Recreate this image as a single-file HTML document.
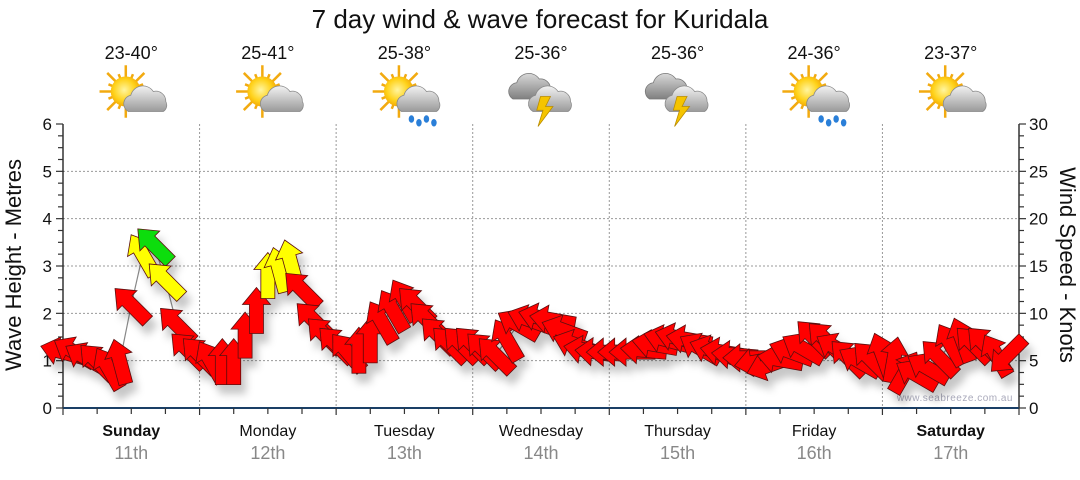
<!DOCTYPE html>
<html><head><meta charset="utf-8">
<style>
body{margin:0;background:#fff;width:1080px;height:475px;overflow:hidden;font-family:"Liberation Sans","DejaVu Sans",sans-serif}
svg text{font-family:"Liberation Sans","DejaVu Sans",sans-serif}
</style></head>
<body>
<svg id="chart" width="1080" height="475" viewBox="0 0 1080 475" xmlns="http://www.w3.org/2000/svg">
<defs>
<filter id="sh" x="-50%" y="-50%" width="200%" height="200%"><feDropShadow dx="5" dy="9" stdDeviation="4" flood-color="#000" flood-opacity="0.22"/></filter>
<radialGradient id="sun" cx="0.45" cy="0.45" r="0.6"><stop offset="0" stop-color="#fff5a0"/><stop offset="0.6" stop-color="#ffd21a"/><stop offset="1" stop-color="#f0a000"/></radialGradient>
<linearGradient id="cloud" x1="0" y1="0" x2="0" y2="1"><stop offset="0" stop-color="#f2f2f2"/><stop offset="1" stop-color="#9a9a9a"/></linearGradient>
<linearGradient id="dcloud" x1="0" y1="0" x2="0" y2="1"><stop offset="0" stop-color="#d8d8d8"/><stop offset="1" stop-color="#808080"/></linearGradient>
</defs>
<text x="540" y="28" text-anchor="middle" font-size="26" fill="#111">7 day wind &amp; wave forecast for Kuridala</text>
<g id="icons"></g>
<g id="grid"></g>
<g id="axes"></g>
<text x="1013" y="401" text-anchor="end" font-size="10" fill="#aab" letter-spacing="0.5">www.seabreeze.com.au</text>
<g id="series"></g>
<text transform="translate(21,265) rotate(-90)" text-anchor="middle" font-size="22" fill="#111">Wave Height - Metres</text>
<text transform="translate(1060,265) rotate(90)" text-anchor="middle" font-size="22" fill="#111">Wind Speed - Knots</text>
</svg>
<script>
const days = ["Sunday","Monday","Tuesday","Wednesday","Thursday","Friday","Saturday"];
const dates = ["11th","12th","13th","14th","15th","16th","17th"];
const boldDays = [true,false,false,false,false,false,true];
const temps = ["23-40°","25-41°","25-38°","25-36°","25-36°","24-36°","23-37°"];
const icons = ["partly","partly","rain","storm","storm","rain","partly"];
const waveTicks = [0,1,2,3,4,5,6];
const windTicks = [0,5,10,15,20,25,30];
// wind speed (knots), 2-hourly, 12 per day
const windSpeed = [
5.9,5.9,5.3,4.9,4.2,4.9,10.9,16.2,17.2,13.5,8.8,6.1,
5.6,4.9,4.9,4.9,7.7,10.3,14.0,14.6,15.4,12.5,9.3,7.7,
6.7,5.9,6.1,7.2,9.1,10.3,11.4,10.9,9.3,7.7,6.7,6.7,
6.7,6.1,5.6,7.2,8.8,9.3,9.5,9.3,8.2,6.7,6.1,5.9,
5.9,5.9,5.9,6.1,6.7,7.2,7.4,7.2,6.3,6.1,5.9,5.6,
5.3,4.9,4.5,5.1,5.9,6.3,7.4,7.2,6.3,5.3,4.9,5.1,
5.6,5.1,3.8,3.5,4.2,5.3,6.7,7.2,6.7,6.7,5.6,5.6];
// arrow heading in degrees (0 = up, clockwise)
const windDir = [
-75,-60,-60,-45,-30,-15,-45,-30,-45,-45,-45,-45,
-45,-30,0,0,0,0,0,-15,-15,-45,-45,-45,
-45,-40,0,0,-30,-30,-30,-45,-45,-45,-45,-45,
-45,-45,-45,-30,-60,-70,-75,-80,-70,-70,-80,-85,
-90,-90,-90,-85,-80,-75,-75,-80,-60,-70,-80,-85,
-90,-100,-110,-80,-70,-60,-45,-45,-60,-45,-60,-45,
-20,10,30,-60,-60,-45,-30,-20,-45,-45,-30,-135];

const NS="http://www.w3.org/2000/svg";
const X0=63,X1=1019,Y0=408,Y1=124;
const dayW=(X1-X0)/7;
const xOf=t=>X0+t*dayW;
const yWave=v=>Y0-(v/6)*(Y0-Y1);
const yWind=v=>Y0-(v/30)*(Y0-Y1);
function mk(tag,attrs,parent){const e=document.createElementNS(NS,tag);for(const k in attrs)e.setAttribute(k,attrs[k]);parent.appendChild(e);return e;}

const grid=document.getElementById('grid'),axes=document.getElementById('axes'),series=document.getElementById('series'),ic=document.getElementById('icons');
waveTicks.forEach(v=>{if(v>0&&v<6){const l=mk('line',{x1:X0,x2:X1,y1:yWave(v),y2:yWave(v),stroke:'#999','stroke-dasharray':'2,2','stroke-width':1},grid);

}});
for(let d=1;d<7;d++){const l=mk('line',{x1:xOf(d),x2:xOf(d),y1:Y1,y2:Y0,stroke:'#999','stroke-dasharray':'2,2','stroke-width':1},grid);

}
mk('line',{x1:X0,x2:X0,y1:Y1,y2:Y0,stroke:'#000','stroke-width':1.2},axes);
mk('line',{x1:X1,x2:X1,y1:Y1,y2:Y0,stroke:'#000','stroke-width':1.2},axes);
const xa=mk('line',{x1:X0,x2:X1,y1:Y0,y2:Y0,stroke:'#1a3f66','stroke-width':2},axes);


for(let i=0;i<=24;i++){const v=i*0.25;const y=yWave(v);const L=(i%4===0)?7:5;
mk('line',{x1:X0-L,x2:X0,y1:y,y2:y,stroke:'#333','stroke-width':1.2},axes);
mk('line',{x1:X1,x2:X1+L,y1:y,y2:y,stroke:'#333','stroke-width':1.2},axes);}
waveTicks.forEach(v=>{const t=mk('text',{x:X0-11,y:yWave(v)+6,'text-anchor':'end','font-size':17,fill:'#111'},axes);t.textContent=v;

});
windTicks.forEach(v=>{const t=mk('text',{x:X1+10,y:yWind(v)+6,'font-size':17,fill:'#111'},axes);t.textContent=v;

});
for(let i=0;i<=28;i++){const x=xOf(i/4);mk('line',{x1:x,x2:x,y1:Y0,y2:Y0+(i%4===0?7:6),stroke:'#333','stroke-width':1.2},axes);}
days.forEach((d,i)=>{const cx=xOf(i+0.5);
const t=mk('text',{x:cx,y:436,'text-anchor':'middle','font-size':16,fill:'#111','font-weight':boldDays[i]?'bold':'normal'},axes);t.textContent=d;


const t2=mk('text',{x:cx,y:459,'text-anchor':'middle','font-size':18,fill:'#888'},axes);t2.textContent=dates[i];


const t3=mk('text',{x:cx,y:59,'text-anchor':'middle','font-size':18,fill:'#111'},ic);t3.textContent=temps[i];


const g=mk('g',{transform:`translate(${cx+2},${94}) scale(1.25)`},ic);


const kind=icons[i];
if(kind!=='storm'){
 for(let r=0;r<16;r++){const a=r*Math.PI/8;const len=r%2?15:21;
  mk('line',{x1:-6,y1:-2,x2:-6+Math.cos(a)*len,y2:-2+Math.sin(a)*len,stroke:'#f2aa10','stroke-width':2},g);}
 mk('circle',{cx:-6,cy:-2,r:12,fill:'url(#sun)'},g);
 mk('path',{d:'M-4,14 a7,7 0 0 1 2,-13 a10,10 0 0 1 18,-3 a8,8 0 0 1 10,8 a6,6 0 0 1 -2,8 z',fill:'url(#cloud)',stroke:'#888','stroke-width':0.6},g);
 if(kind==='rain'){[[4,20],[10,23],[16,20],[22,23]].forEach(p=>mk('ellipse',{cx:p[0],cy:p[1],rx:2.2,ry:3,fill:'#2a7fd8'},g));}
}else{
 mk('path',{d:'M-24,4 a7,7 0 0 1 3,-13 a10,10 0 0 1 18,-3 a8,8 0 0 1 9,8 a6,6 0 0 1 -2,8 z',fill:'url(#dcloud)',stroke:'#777','stroke-width':0.6},g);
 mk('path',{d:'M-8,14 a7,7 0 0 1 2,-13 a10,10 0 0 1 18,-3 a8,8 0 0 1 10,8 a6,6 0 0 1 -2,8 z',fill:'url(#cloud)',stroke:'#888','stroke-width':0.6},g);
 mk('polygon',{points:'-2,2 6,2 2,10 8,10 -4,26 0,13 -5,13',fill:'#f5c400',stroke:'#b88a00','stroke-width':0.6},g);
}
});
const n=windSpeed.length,perDay=12;
const pts=windSpeed.map((v,i)=>[xOf(i/perDay),yWind(v)]);
const ln=mk('polyline',{points:pts.map(p=>p.join(',')).join(' '),fill:'none',stroke:'#888','stroke-width':1.2},series);


const ag=mk('g',{filter:'url(#sh)'},series);
windSpeed.forEach((v,i)=>{
 const [x,y]=pts[i];
 const col=v>=17?'#11dd11':(v>=13?'#ffff00':'#ff0000');
 const a=mk('polygon',{points:'0,-23 14,-6 7,-6 7,23 -7,23 -7,-6 -14,-6',fill:col,stroke:'#5a1010','stroke-width':0.8,transform:`translate(${x},${y}) rotate(${windDir[i]})`},ag);
 
 
});
</script>
</body></html>
